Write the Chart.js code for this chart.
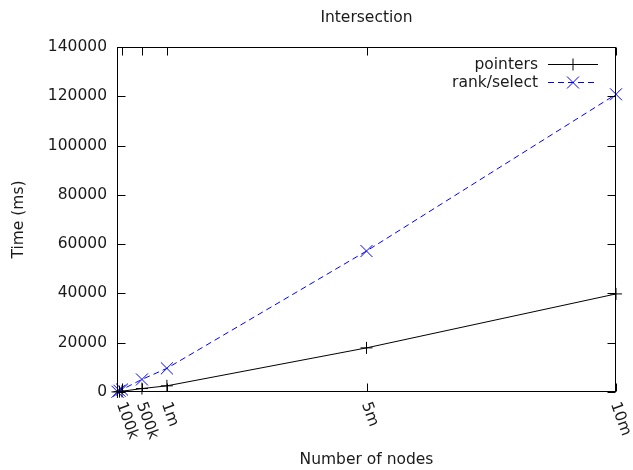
<!DOCTYPE html>
<html>
<head>
<meta charset="utf-8">
<script src="https://cdn.jsdelivr.net/npm/chart.js@4.4.1/dist/chart.umd.min.js"></script>
<style>
html,body{margin:0;padding:0;background:#fff;}
#wrap{width:633px;height:470px;position:relative;}
</style>
</head>
<body>
<div id="wrap"><canvas id="c" width="633" height="470"></canvas></div>
<script>
const chartTitle = 'Intersection';
const xTitle = 'Number of nodes';
const yTitle = 'Time (ms)';
const nodes = [10000, 50000, 100000, 500000, 1000000, 5000000, 10000000];
const pointers = [30, 150, 300, 1400, 2500, 17900, 39800];
const rankSelect = [100, 500, 1000, 5100, 9600, 57200, 120800];
const xTickValues = [100000, 500000, 1000000, 5000000, 10000000];
const xTickLabels = ['100k', '500k', '1m', '5m', '10m'];
const seriesNames = ['pointers', 'rank/select'];

const FONT = '"DejaVu Sans", sans-serif';
const FS = 15.5;
const TXT = '#1a1a1a';

function pts(ys){ return nodes.map((x,i)=>({x:x, y:ys[i]})); }

const decor = {
  id:'decor',
  afterDraw(chart){
    const ctx = chart.ctx, a = chart.chartArea;
    const xs = chart.scales.x, ys = chart.scales.y;
    ctx.save();
    ctx.strokeStyle = '#000'; ctx.lineWidth = 1;
    const L = Math.round(a.left)+0.5, R = Math.round(a.right)-0.5, T = Math.round(a.top)+0.5, B = Math.round(a.bottom)-0.5;
    ctx.strokeRect(L, T, R-L, B-T);
    ys.ticks.forEach(t=>{
      const y = Math.round(ys.getPixelForValue(t.value))+0.5;
      ctx.beginPath();
      ctx.moveTo(L, y); ctx.lineTo(L+8, y);
      ctx.moveTo(R, y); ctx.lineTo(R-8, y);
      ctx.stroke();
    });
    ctx.fillStyle = TXT;
    ctx.font = FS + 'px ' + FONT;
    xTickValues.forEach((v,i)=>{
      const x = Math.round(xs.getPixelForValue(v))+0.5;
      ctx.beginPath();
      ctx.moveTo(x, B); ctx.lineTo(x, B-8);
      ctx.moveTo(x, T); ctx.lineTo(x, T+8);
      ctx.stroke();
      ctx.save();
      ctx.translate(x-2, B+11);
      ctx.rotate(70*Math.PI/180);
      ctx.textAlign = 'left'; ctx.textBaseline = 'middle';
      ctx.fillText(xTickLabels[i], 0, 0);
      ctx.restore();
    });
    ctx.textAlign = 'center'; ctx.textBaseline = 'middle';
    ctx.fillText(chartTitle, (a.left+a.right)/2, 18);
    ctx.fillText(xTitle, (a.left+a.right)/2, 460);
    ctx.save();
    ctx.translate(19, (a.top+a.bottom)/2);
    ctx.rotate(-Math.PI/2);
    ctx.fillText(yTitle, 0, 0);
    ctx.restore();
    const rows = [64, 82];
    chart.data.datasets.forEach((ds,i)=>{
      const y = rows[i];
      ctx.fillStyle = TXT;
      ctx.textAlign = 'right'; ctx.textBaseline = 'middle';
      ctx.fillText(seriesNames[i], 538, y+1);
      ctx.strokeStyle = ds.borderColor;
      ctx.lineWidth = 1;
      ctx.setLineDash(ds.borderDash || []);
      ctx.beginPath(); ctx.moveTo(548, y+0.5); ctx.lineTo(598, y+0.5); ctx.stroke();
      ctx.setLineDash([]);
      const cx = 573, cy = y+0.5;
      ctx.beginPath();
      if (ds.pointStyle === 'cross') {
        ctx.moveTo(cx-6, cy); ctx.lineTo(cx+6, cy);
        ctx.moveTo(cx, cy-6); ctx.lineTo(cx, cy+6);
      } else {
        const d = 6;
        ctx.moveTo(cx-d, cy-d); ctx.lineTo(cx+d, cy+d);
        ctx.moveTo(cx-d, cy+d); ctx.lineTo(cx+d, cy-d);
      }
      ctx.stroke();
    });
    ctx.restore();
  }
};

new Chart(document.getElementById('c'), {
  type:'line',
  data:{
    datasets:[
      {label:seriesNames[0], data:pts(pointers), borderColor:'#000', backgroundColor:'#000', borderWidth:1,
       pointStyle:'cross', pointRadius:6, pointBorderWidth:1, pointBorderColor:'#000', fill:false, tension:0, clip:false},
      {label:seriesNames[1], data:pts(rankSelect), borderColor:'#0000ff', backgroundColor:'#0000ff', borderWidth:1, borderDash:[6,4],
       pointStyle:'crossRot', pointRadius:8.5, pointBorderWidth:1, pointBorderColor:'#0000ff', fill:false, tension:0, clip:false}
    ]
  },
  options:{
    responsive:false, animation:false, devicePixelRatio:1,
    layout:{padding:{left:0, top:47, right:17, bottom:78}},
    plugins:{legend:{display:false}, title:{display:false}, tooltip:{enabled:false}},
    scales:{
      x:{type:'linear', min:0, max:10000000,
         grid:{display:false, drawTicks:false}, border:{display:false},
         ticks:{display:false},
         afterBuildTicks(s){ s.ticks = xTickValues.map(v=>({value:v})); },
         afterFit(s){ s.height = 0; }},
      y:{type:'linear', min:0, max:140000,
         grid:{display:false, drawTicks:false}, border:{display:false},
         ticks:{stepSize:20000, padding:10, color:TXT, font:{family:FONT, size:FS}, callback:v=>String(v)},
         afterFit(s){ s.width = 117; }}
    }
  },
  plugins:[decor]
});
</script>
</body>
</html>
